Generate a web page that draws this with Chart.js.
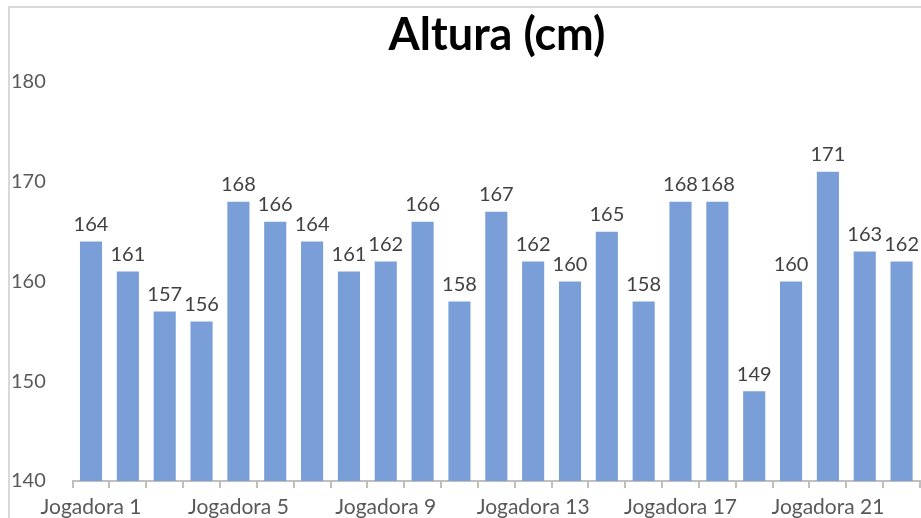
<!DOCTYPE html>
<html>
<head>
<meta charset="utf-8">
<script src="https://cdn.jsdelivr.net/npm/chart.js@4/dist/chart.umd.min.js"></script>
<style>
  html,body{margin:0;padding:0;background:#fff;}
  #wrap{width:921px;height:518px;position:relative;}
</style>
</head>
<body>
<div id="wrap"><canvas id="chart" width="921" height="518"></canvas></div>
<script>
const players = ['Jogadora 1','Jogadora 2','Jogadora 3','Jogadora 4','Jogadora 5','Jogadora 6','Jogadora 7','Jogadora 8',
  'Jogadora 9','Jogadora 10','Jogadora 11','Jogadora 12','Jogadora 13','Jogadora 14','Jogadora 15','Jogadora 16',
  'Jogadora 17','Jogadora 18','Jogadora 19','Jogadora 20','Jogadora 21','Jogadora 22','Jogadora 23'];
const heights = [164,161,157,156,168,166,164,161,162,166,158,167,162,160,165,158,168,168,149,160,171,163,162];
const yTicks = [140,150,160,170,180];
const titleText = 'Altura (cm)';

const fontFam = 'Lato, "Open Sans", sans-serif';

// thin grey frame of the original chart (only top and left visible) + title
const frame = {
  id:'frame',
  beforeDraw(chart){
    const c = chart.ctx;
    c.save();
    c.fillStyle = '#fff';
    c.fillRect(0,0,chart.width,chart.height);
    c.strokeStyle = '#d9d9d9';
    c.lineWidth = 2;
    c.beginPath();
    c.moveTo(9,chart.height);
    c.lineTo(9,7);
    c.lineTo(chart.width,7);
    c.stroke();
    // title is centred on the full (uncropped) chart, so it sits right of canvas centre
    c.font = 'bold 45px ' + fontFam;
    c.fillStyle = '#000';
    c.textAlign = 'center';
    c.textBaseline = 'alphabetic';
    c.fillText(titleText, 497, 50);
    c.restore();
  }
};

// value labels above each bar
const valueLabels = {
  id:'valueLabels',
  afterDatasetsDraw(chart){
    const c = chart.ctx;
    const meta = chart.getDatasetMeta(0);
    c.save();
    c.font = '20px ' + fontFam;
    c.fillStyle = '#404040';
    c.textAlign = 'center';
    c.textBaseline = 'bottom';
    meta.data.forEach((bar,i)=>{
      c.fillText(String(heights[i]), bar.x, bar.y - 7);
    });
    c.restore();
  }
};

new Chart(document.getElementById('chart'),{
  type:'bar',
  data:{
    labels:players,
    datasets:[{data:heights,backgroundColor:'#7a9ed7',barPercentage:0.6,categoryPercentage:1}]
  },
  options:{
    responsive:false,
    animation:false,
    layout:{padding:{left:11,right:1,top:82,bottom:0}},
    plugins:{
      legend:{display:false},
      tooltip:{enabled:false},
      title:{display:false}
    },
    scales:{
      y:{
        min:140,max:180,
        afterBuildTicks(s){ s.ticks = yTicks.map(v=>({value:v})); },
        afterFit(s){ s.width = 61.6; },
        grid:{display:false},
        border:{display:false},
        ticks:{color:'#595959',font:{family:fontFam,size:20},crossAlign:'far',padding:0}
      },
      x:{
        afterFit(s){ s.height = 37; },
        grid:{offset:true,drawOnChartArea:false,color:'#bfbfbf',tickLength:7,lineWidth:2},
        border:{color:'#bfbfbf',width:2},
        ticks:{color:'#595959',font:{family:fontFam,size:21},autoSkip:false,maxRotation:0,padding:7,
          callback(v,i){ return i%4===0 ? players[i] : ''; }}
      }
    }
  },
  plugins:[frame,valueLabels]
});
</script>
</body>
</html>
